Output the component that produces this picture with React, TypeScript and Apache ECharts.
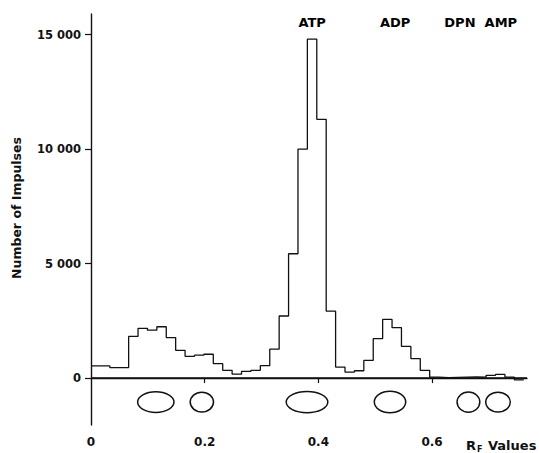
import React, { useEffect, useRef } from "react";
import * as echarts from "echarts";

// Histogram of impulses along the paper strip (bin width in Rf units)
const binWidth = 0.01655;
const impulseCounts = [
  530, 530, 460, 460, 1820, 2170, 2090, 2240, 1770, 1210,
  950, 1000, 1040, 630, 340, 170, 290, 340, 540, 1260,
  2710, 5430, 10000, 14800, 11300, 2920, 480, 260, 320, 770,
  1720, 2560, 2200, 1380, 850, 340, 40, 20, 30, 40,
  50, 40, 120, 160, 40, -80,
];

// Chromatography spots: centre Rf, half width (Rf), centre value, half height (value)
const spotRf = [0.114, 0.195, 0.38, 0.526, 0.664, 0.716];
const spotHalfWidth = [0.032, 0.0205, 0.0366, 0.0276, 0.02, 0.0216];
const spotLevel = -1050;
const spotHalfHeight = [450, 430, 460, 470, 440, 430];

// Peak annotations
const peakNames = ["ATP", "ADP", "DPN", "AMP"];
const peakRf = [0.389, 0.535, 0.649, 0.721];
const peakLabelLevel = 15550;

const yTicks = [0, 5000, 10000, 15000];
const xTicks = [0, 0.2, 0.4, 0.6];

const FONT = "DejaVu Sans";

export default function App() {
  const ref = useRef<HTMLDivElement>(null);
  useEffect(() => {
    if (!ref.current) return;
    const chart = echarts.init(ref.current, undefined, { renderer: "svg" });
    const histData = impulseCounts.map((v, i) => [i * binWidth, v]);
    histData.push([impulseCounts.length * binWidth, impulseCounts[impulseCounts.length - 1]]);
    const spotData = spotRf.map((x, i) => [x, spotLevel, spotHalfWidth[i], spotHalfHeight[i]]);
    const labelData = peakNames.map((n, i) => ({ value: [peakRf[i], peakLabelLevel], name: n }));

    chart.setOption({
      animation: false,
      backgroundColor: "#fff",
      grid: { left: 91, right: 12, top: 14, bottom: 28, containLabel: false },
      xAxis: {
        type: "value",
        min: 0,
        max: 0.767,
        axisLine: { show: true, lineStyle: { color: "#111", width: 1.4 } },
        axisTick: { show: true, length: 5, customValues: [0.2, 0.4, 0.6], lineStyle: { color: "#111", width: 1.2 } },
        axisLabel: {
          customValues: xTicks,
          margin: 11,
          color: "#111",
          fontFamily: FONT,
          fontWeight: "bold",
          fontSize: 12,
          formatter: (v: number) => (v === 0 ? "0" : v.toFixed(1)),
        },
        splitLine: { show: false },
      },
      yAxis: {
        type: "value",
        min: -2050,
        max: 15900,
        axisLine: { show: true, lineStyle: { color: "#111", width: 1.4 } },
        axisTick: { show: true, length: 6, customValues: yTicks, lineStyle: { color: "#111", width: 1.2 } },
        axisLabel: {
          customValues: yTicks,
          margin: 10,
          color: "#111",
          fontFamily: FONT,
          fontWeight: "bold",
          fontSize: 11.5,
          formatter: (v: number) => String(v).replace(/\B(?=(\d{3})+(?!\d))/g, " "),
        },
        splitLine: { show: false },
      },
      series: [
        {
          type: "line",
          data: histData,
          step: "end",
          symbol: "none",
          lineStyle: { color: "#111", width: 1.3 },
          markLine: {
            silent: true,
            symbol: "none",
            label: { show: false },
            lineStyle: { color: "#111", width: 1.5, type: "solid" },
            data: [{ yAxis: 0 }],
          },
          z: 3,
        },
        {
          type: "custom",
          coordinateSystem: "cartesian2d",
          data: spotData,
          encode: { x: 0, y: 1 },
          renderItem: (params: any, api: any) => {
            const c = api.coord([api.value(0), api.value(1)]);
            const s = api.size([api.value(2), api.value(3)]);
            return {
              type: "ellipse",
              shape: { cx: c[0], cy: c[1], rx: s[0], ry: s[1] },
              style: { fill: "none", stroke: "#111", lineWidth: 1.5 },
            };
          },
          z: 2,
        },
        {
          type: "scatter",
          data: labelData,
          symbolSize: 0,
          itemStyle: { opacity: 1 },
          label: {
            show: true,
            position: "inside",
            formatter: (p: any) => p.name,
            color: "#000",
            opacity: 1,
            fontFamily: FONT,
            fontWeight: "bold",
            fontSize: 13,
          },
          z: 4,
        },
      ],
      graphic: [
        {
          type: "text",
          x: 16,
          y: 208,
          rotation: Math.PI / 2,
          style: {
            text: "Number of Impulses",
            fill: "#111",
            font: `bold 12.5px "${FONT}"`,
            align: "center",
            verticalAlign: "middle",
          },
        },
        {
          type: "text",
          x: 466,
          y: 445,
          style: { text: "R", fill: "#111", font: `bold 13px "${FONT}"`, align: "left", verticalAlign: "middle" },
        },
        {
          type: "text",
          x: 477,
          y: 449,
          style: { text: "F", fill: "#111", font: `bold 8px "${FONT}"`, align: "left", verticalAlign: "middle" },
        },
        {
          type: "text",
          x: 488,
          y: 445,
          style: { text: "Values", fill: "#111", font: `bold 13px "${FONT}"`, align: "left", verticalAlign: "middle" },
        },
      ],
    });
    return () => chart.dispose();
  }, []);
  return (
    <div
      ref={ref}
      style={{ position: "fixed", left: 0, top: 0, width: 539, height: 453, background: "#fff" }}
    />
  );
}
